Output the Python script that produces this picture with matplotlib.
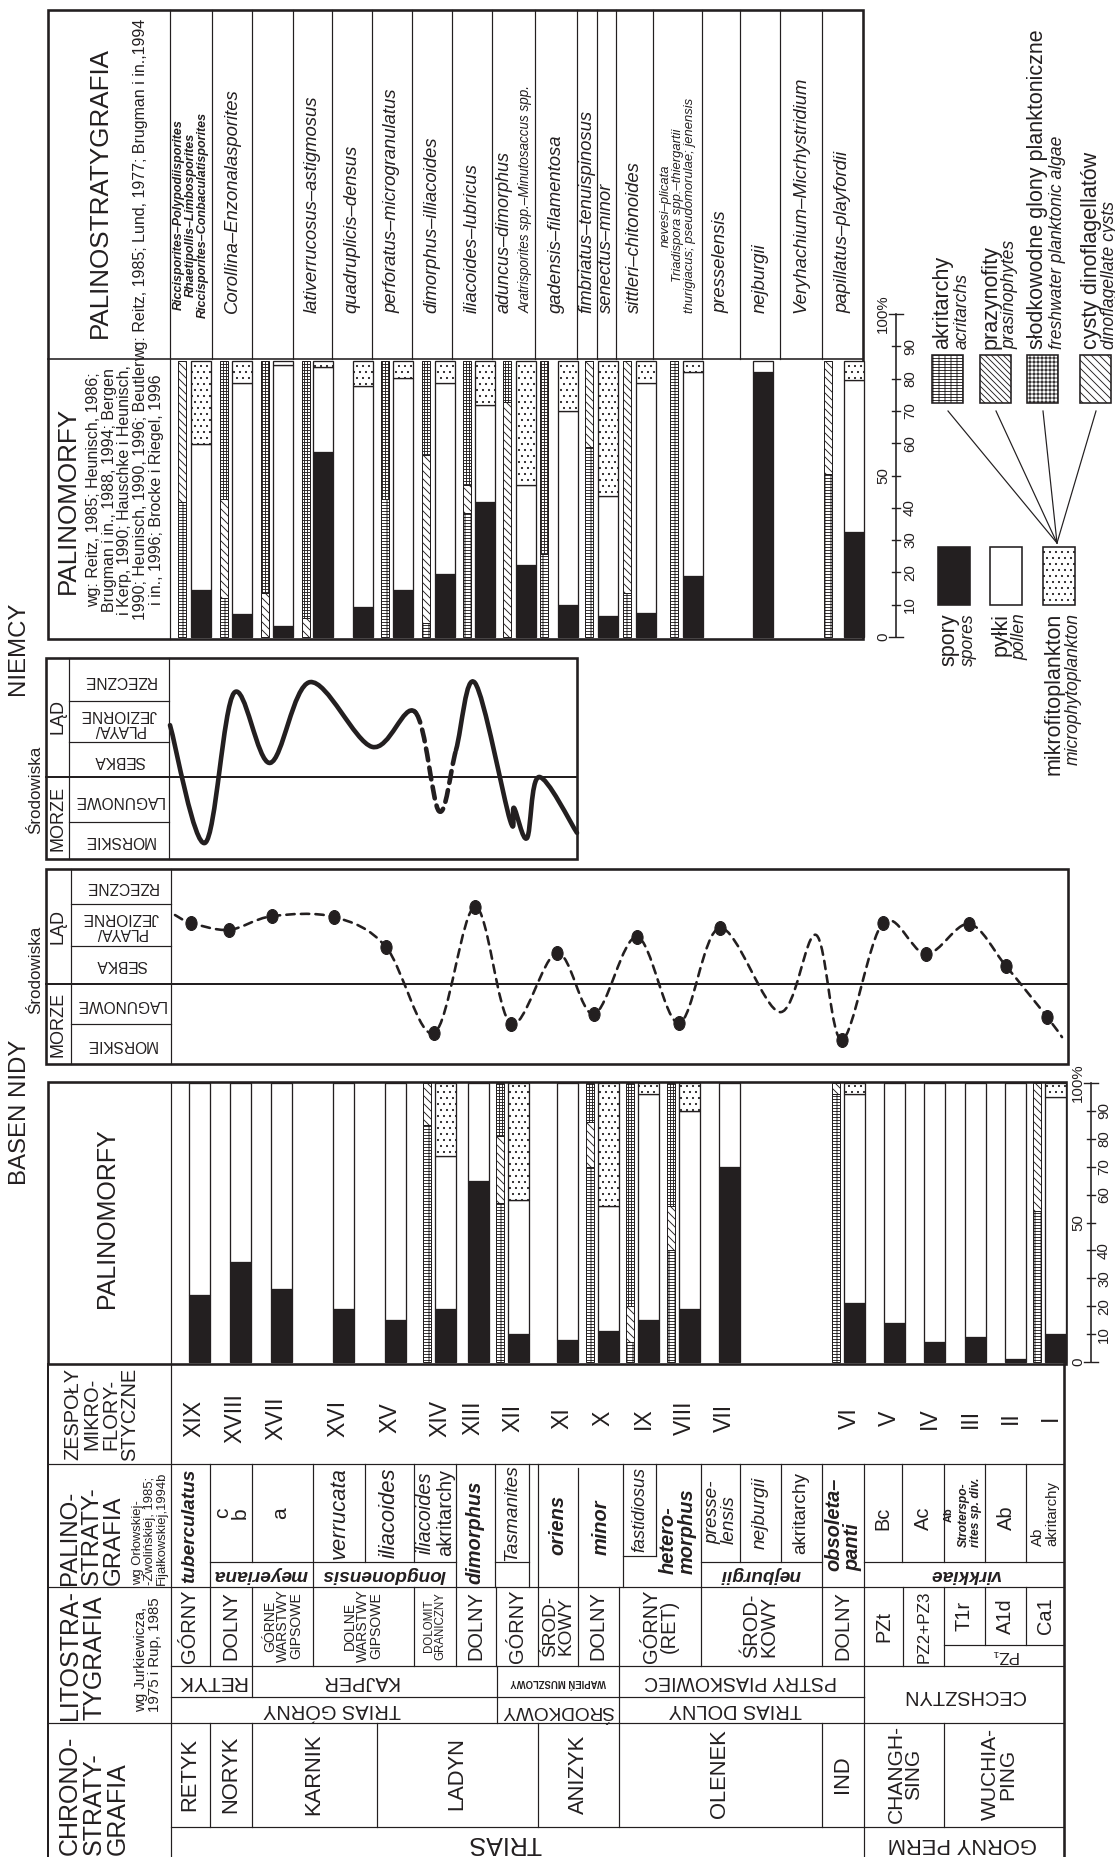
import numpy as np
import matplotlib
matplotlib.use("Agg")
import matplotlib.pyplot as plt
from matplotlib.path import Path
from matplotlib.patches import PathPatch, Rectangle

# ---------------- Basen Nidy: palynomorph spectra ----------------
nida_assemblages = ["XIX", "XVIII", "XVII", "XVI", "XV", "XIV", "XIII", "XII", "XI", "X",
                    "IX", "VIII", "VII", "VI", "V", "IV", "III", "II", "I"]
nida_spores = [24, 36, 26, 19, 15, 19, 65, 10, 8, 11, 15, 19, 70, 21, 14, 7, 9, 1, 10]
nida_microplankton = [0, 0, 0, 0, 0, 26, 0, 42, 0, 44, 4, 10, 0, 4, 0, 0, 0, 0, 5]

# make-up of the microphytoplankton (acritarchs / dinocysts / freshwater algae, %)
nida_mp_assemblages = ["XIV", "XII", "X", "IX", "VIII", "VI", "I"]
nida_mp_acritarchs = [85, 57, 70, 7, 40, 96, 54]
nida_mp_dinocysts = [15, 24, 16, 13, 16, 4, 46]
nida_mp_freshwater = [0, 19, 14, 80, 44, 0, 0]

# depositional environment: 0 morskie, 1 lagunowe, 2 sebka, 3 playa/jeziorne, 4-5 rzeczne
nida_env_pos = [175, 191, 229, 272, 334, 386, 434, 475, 511, 557, 594, 637, 679, 720,
                780, 816, 842, 883, 926, 969, 1006, 1047, 1062]
nida_env_level = [3.82, 3.62, 3.44, 3.79, 3.77, 3.0, 0.79, 4.03, 1.03, 2.85, 1.28, 3.26,
                  1.05, 3.49, 1.33, 3.31, 0.62, 3.62, 2.82, 3.59, 2.51, 1.21, 0.69]
nida_env_sampled = [0, 1, 1, 1, 1, 1, 1, 1, 1, 1, 1, 1, 1, 1, 0, 0, 1, 1, 1, 1, 1, 1, 0]

# ---------------- Niemcy (Germany) ----------------
de_zones = [
    "Riccisporites–Polypodiisporites\nRhaetipollis–Limbosporites\nRiccisporites–Conbaculatisporites",
    "Corollina–Enzonalasporites", "", "lativerrucosus–astigmosus", "quadruplicis–densus",
    "perforatus–microgranulatus", "dimorphus–illiacoides", "iliacoides–lubricus",
    "aduncus–dimorphus", "gadensis–filamentosa", "fimbriatus–tenuispinosus",
    "senectus–minor", "sittleri–chitonoides",
    "nevesi–plicata\nTriadispora spp.–thiergartii\nthurigiacus; pseudomorulae; jenensis",
    "presselensis", "nejburgii", "Veryhachium–Micrhystridium", "papillatus–playfordii"]
de_spores = [17, 8.4, 4, 67, 11, 17, 23, 49, 26, 11.5, 7.6, 8.6, 22, 96, 38]
de_microplankton = [30, 8, 1.5, 2, 9, 6, 8, 16, 45, 18, 49, 8, 4, 0, 7]
de_mp_acritarchs = [49, 14, 0, 0, 50, 5, 45, 0, 30, 69, 16, 100, 59]
de_mp_dinocysts = [51, 36, 16, 7, 0, 61, 10, 85, 0, 31, 84, 0, 41]
de_mp_freshwater = [0, 50, 84, 93, 50, 34, 45, 15, 70, 0, 0, 0, 0]

de_env_pos = [170, 205, 234, 270, 310, 372, 415, 439, 456, 475, 510, 514, 527, 539, 577]
de_env_level = [3.33, 0.40, 4.13, 2.39, 4.40, 2.79, 3.66, 1.19, 2.71, 4.38, 0.97, 1.27,
                0.52, 2.04, 0.65]
de_env_uncertain = [6, 7]          # segments drawn dashed

pct_ticks = list(range(0, 101, 10))

# ---------------- figure ----------------
W, H, DPI = 1115, 1857, 72
INK = "#231f20"
SANS = ["Liberation Sans", "DejaVu Sans"]
plt.rcParams["font.family"] = SANS
plt.rcParams["hatch.linewidth"] = 0.9

HATCH_ACR = "----||"
HATCH_PRA = "\\\\\\\\"
HATCH_FRESH = "++++"
HATCH_DINO = "\\\\\\"

fig = plt.figure(figsize=(W / DPI, H / DPI), dpi=DPI, facecolor="white")
ax = fig.add_axes([0, 0, 1, 1])
ax.set_xlim(0, W)
ax.set_ylim(H, 0)
ax.axis("off")


def line(xs, ys, lw=1.2):
    ax.plot(xs, ys, color=INK, lw=lw, solid_capstyle="projecting")


def hl(y, x0, x1, lw=1.2):
    line([x0, x1], [y, y], lw)


def vl(x, y0, y1, lw=1.2):
    line([x, x], [y0, y1], lw)


def rect(x0, y0, x1, y1, lw=1.2, **kw):
    ax.add_patch(Rectangle((x0, y0), x1 - x0, y1 - y0, ec=INK, lw=lw, **kw))


def txt(x, y, s, size, rot=90, ha="center", va="center", ma="center",
        style="normal", weight="normal", ls=1.0):
    ax.text(x, y, s, fontsize=size, rotation=rot, ha=ha, va=va, multialignment=ma,
            fontstyle=style, fontweight=weight, linespacing=ls, color=INK)


def panel(x0, y0, x1, y1, xlim, ylim):
    a = fig.add_axes([x0 / W, 1 - y1 / H, (x1 - x0) / W, (y1 - y0) / H])
    a.set_xlim(*xlim)
    a.set_ylim(*ylim)
    a.axis("off")
    return a


def bezier_segments(xs, ys):
    p = np.column_stack([xs, ys]).astype(float)
    n = len(p)
    segs = []
    for i in range(n - 1):
        p0, p1, p2, p3 = p[max(i - 1, 0)], p[i], p[i + 1], p[min(i + 2, n - 1)]
        segs.append((p1, p1 + (p2 - p0) / 6, p2 - (p3 - p1) / 6, p2))
    return segs


def draw_segments(a, segs, **kw):
    verts, codes = [segs[0][0]], [Path.MOVETO]
    for s in segs:
        verts += [s[1], s[2], s[3]]
        codes += [Path.CURVE4] * 3
    a.add_patch(PathPatch(Path(verts, codes), fill=False, ec=INK, clip_on=False,
                          capstyle="round", joinstyle="round", **kw))


def stacked_bars(a, x, width, spores, micro):
    spores = np.asarray(spores, float)
    micro = np.asarray(micro, float)
    pollen = 100 - spores - micro
    kw = dict(edgecolor=INK, lw=1.3, clip_on=False, align="edge")
    a.bar(x, spores, width, color=INK, **kw)
    a.bar(x, pollen, width, bottom=spores, color="white", **kw)
    m = micro > 0
    a.bar(np.asarray(x)[m], micro[m], width, bottom=(spores + pollen)[m],
          color="white", hatch="..", **kw)


def plankton_strips(a, x, width, acr, dino, fresh):
    kw = dict(edgecolor=INK, lw=1.0, clip_on=False, align="edge", color="white")
    acr, dino, fresh = (np.asarray(v, float) for v in (acr, dino, fresh))
    a.bar(x, acr, width, hatch=HATCH_ACR, **kw)
    a.bar(x, dino, width, bottom=acr, hatch=HATCH_DINO, **kw)
    a.bar(x, fresh, width, bottom=acr + dino, hatch=HATCH_FRESH, **kw)


def pct_scale(a, x, left_dx, right_dx, size):
    a.plot([x, x], [0, 100], color=INK, lw=1.6, clip_on=False)
    for t in pct_ticks:
        half = 7 if t in (0, 100) else 4
        a.plot([x - half, x + half], [t, t], color=INK, lw=1.4, clip_on=False)
        label = "100%" if t == 100 else str(t)
        dx = left_dx if t in (0, 50, 100) else right_dx
        a.text(x + dx, t, label, rotation=90, ha="center", va="center",
               fontsize=size, color=INK)


# =============== NIEMCY: palynostratigraphy + palynomorph table ===============
de_edges = [170, 212, 252, 293, 332, 372, 412, 452, 492, 535, 577, 597, 616, 653,
            702, 740, 780, 822, 863]
DE_TOP, DE_MID, DE_BOT = 10, 359, 639
rect(48, DE_TOP, 863, DE_BOT, lw=2.6, fill=False)
vl(170, DE_TOP, DE_BOT)
hl(DE_MID, 48, 863, lw=1.6)
for xe in de_edges[1:-1]:
    vl(xe, DE_TOP, DE_MID)

txt(100, 192, "PALINOSTRATYGRAFIA", 26)
txt(141, 190, "wg: Reitz, 1985; Lund, 1977; Brugman i in.,1994", 16)
txt(68, 500, "PALINOMORFY", 26)
txt(125, 490, "wg: Reitz, 1985; Heunisch, 1986;\nBrugman i in., 1988, 1994; Bergen\n"
    "i Kerp, 1990; Hauschke i Heunisch,\n1990; Heunisch, 1990, 1996; Beutler\n"
    "i in., 1996; Brocke i Riegel, 1996", 16, ls=1.08)

for i, name in enumerate(de_zones):
    xc = (de_edges[i] + de_edges[i + 1]) / 2
    if not name:
        continue
    if i == 0:
        txt(xc, 318, name, 12.5, va="bottom", style="italic", weight="bold")
    elif i == 8:
        txt(xc - 9, 313, name, 18, va="bottom", style="italic")
        txt(xc + 12, 313, "Aratrisporites spp.–Minutosaccus spp.", 13.5, va="bottom",
            style="italic")
    elif i == 13:
        txt(xc, 313, name, 13, va="bottom", style="italic")
    else:
        txt(xc, 313, name, 18.5, va="bottom", style="italic")

de_bar_x = [191, 232, 273, 313, 353, 393, 435, 475, 516, 558, 598, 636, 683, 753, 844]
de_strip_x = [178, 220, 261, 302, 381, 422, 463, 503, 540, 585, 623, 670, 824]
gb = panel(0, 361, W, 637, (0, W), (0, 100))
stacked_bars(gb, de_bar_x, 20, de_spores, de_microplankton)
plankton_strips(gb, de_strip_x, 8, de_mp_acritarchs, de_mp_dinocysts, de_mp_freshwater)

# =============== legend ===============
lg = panel(0, 314, W, 637, (0, W), (0, 100))
pct_scale(lg, 896, -13, 14, 15)

boxes_low = [(938, "spory", "spores", INK, None),
             (990, "pyłki", "pollen", "white", None),
             (1043, "mikrofitoplankton", "microphytoplankton", "white", "..")]
for x0, pl, en, fc, hatch in boxes_low:
    rect(x0, 547, x0 + 32, 605, lw=1.6, facecolor=fc, hatch=hatch)
    txt(x0 + 11, 613, pl, 21.5, va="top")
    txt(x0 + 30, 613, en, 17.5, va="top", style="italic")

boxes_high = [(932, "akritarchy", "acritarchs", HATCH_ACR),
              (980, "prazynofity", "prasinophytes", HATCH_PRA),
              (1027, "słodkowodne glony planktoniczne", "freshwater planktonic algae", "+++"),
              (1080, "cysty dinoflagellatów", "dinoflagellate cysts", HATCH_DINO)]
for x0, pl, en, hatch in boxes_high:
    rect(x0, 355, x0 + 31, 403, lw=1.6, facecolor="white", hatch=hatch)
    txt(x0 + 11, 349, pl, 21.5, va="bottom")
    txt(x0 + 30, 349, en, 17.5, va="bottom", style="italic")
    line([x0 + 16, 1057], [411, 543], lw=1.2)


# =============== environments ===============
def env_frame(x0, x1, y_top, y_mid, y_bot, rows, col1, col2):
    rect(x0, y_top, x1, y_bot, lw=2.6, fill=False)
    vl(col1, y_top, y_bot)
    vl(col2, y_top, y_bot)
    hl(y_mid, x0, x1, lw=2.0)
    for yr in rows:
        hl(yr, col1, col2)


def env_labels(cx, cy_rows, lad_y, morze_y, cx1, sr_x, sr_y):
    names = ["RZECZNE", "PLAYA/\nJEZIORNE", "SEBKA", "LAGUNOWE", "MORSKIE"]
    for nm, cy in zip(names, cy_rows):
        txt(cx, cy, nm, 15.5, rot=180, ls=0.95)
    txt(cx1, lad_y, "LĄD", 18)
    txt(cx1, morze_y, "MORZE", 18)
    txt(sr_x, sr_y, "Środowiska", 17)


# Germany
env_frame(46, 577, 658, 777, 859, [701, 742, 822], 69, 169)
env_labels(119, [680, 722, 760, 800, 841], 717, 818, 58, 36, 790)
ge = panel(169, 658, 577, 859, (169, 577), (0, 5))
segs = bezier_segments(de_env_pos, de_env_level)
solid_runs, run = [], []
for i, s in enumerate(segs):
    if i in de_env_uncertain:
        if run:
            solid_runs.append(run)
            run = []
    else:
        run.append(s)
solid_runs.append(run)
for r in solid_runs:
    draw_segments(ge, r, lw=4.6)
draw_segments(ge, [segs[i] for i in de_env_uncertain], lw=4.6, linestyle=(0, (2.6, 1.6)))

txt(18, 648, "NIEMCY", 24)

# Nida Basin
env_frame(46, 1068, 869, 984, 1064, [904, 946, 1024], 71, 171)
env_labels(121, [886, 925, 965, 1004, 1044], 926, 1024, 58, 36, 970)
ne = panel(171, 869, 1068, 1064, (171, 1068), (0, 5))
draw_segments(ne, bezier_segments(nida_env_pos, nida_env_level), lw=2.6,
              linestyle=(0, (3.2, 2.4)))
uc = Path.unit_circle()
dot = Path(uc.vertices * [0.8, 1.0], uc.codes)
sel = np.asarray(nida_env_sampled, bool)
ne.plot(np.asarray(nida_env_pos)[sel], np.asarray(nida_env_level)[sel], ls="none",
        marker=dot, ms=14, color=INK, clip_on=False)

txt(20, 1112, "BASEN NIDY", 24)

# =============== BASEN NIDY: palynomorph bars ===============
L, HR, R = 48, 171, 1064
Y_TOP, Y_TAB, Y_ZES, Y_PAL, Y_CHR, Y_STG = 1082, 1364, 1464, 1587, 1723, 1827
rect(L, Y_TOP, 1066, Y_TAB, lw=2.6, fill=False)
vl(L, Y_TAB, H, lw=2.0)
vl(R, Y_TAB, H, lw=2.6)
vl(HR, Y_TOP, H)
txt(107, 1218, "PALINOMORFY", 25)

nida_bar_x = [189, 230, 271, 333, 385, 435, 468, 508, 557, 598, 638, 679, 719, 844,
              884, 924, 965, 1005, 1045]
nb = panel(0, 1083, W, 1362, (0, W), (0, 100))
stacked_bars(nb, nida_bar_x, 21, nida_spores, nida_microplankton)
strip_x = [nida_bar_x[nida_assemblages.index(a)] - 12 for a in nida_mp_assemblages]
plankton_strips(nb, strip_x, 8, nida_mp_acritarchs, nida_mp_dinocysts, nida_mp_freshwater)
pct_scale(nb, 1091, -13, 13, 15)

# =============== BASEN NIDY: stratigraphic table ===============
for y in (Y_ZES, Y_PAL, Y_CHR):
    hl(y, L, R)
hl(Y_STG, HR, R)

# microfloral assemblages
txt(101, 1414, "ZESPOŁY\nMIKRO-\nFLORY-\nSTYCZNE", 20)
for a, xb in zip(nida_assemblages, nida_bar_x):
    txt(xb + 5, 1418, a, 23)

# palynostratigraphy
txt(92, 1585, "PALINO-\nSTRATY-\nGRAFIA", 24, va="bottom", ma="left")
txt(150, 1585, "wg Orłowskiej-\n-Zwolińskiej, 1985;\nFijałkowskiej,1994b", 13,
    va="bottom", ma="left")
for xe in (210, 313, 456, 495, 529, 538, 623, 701, 822, 864):
    vl(xe, Y_ZES, Y_PAL)
for xe in (252, 365, 414, 740, 781, 902, 944, 985, 1026):
    vl(xe, Y_ZES, 1562)
vl(578, 1468, Y_PAL)
vl(656, Y_ZES, 1556)
hl(1556, 623, 656)
hl(1562, 210, 456)
hl(1562, 495, 529)
hl(1562, 701, 822)
hl(1562, 864, R)

BI = dict(style="italic", weight="bold")
IT = dict(style="italic")
txt(190, 1526, "tuberculatus", 19, **BI)
txt(231, 1513, "c\nb", 21, ls=0.9)
txt(281, 1513, "a", 21)
txt(261, 1574, "meyeriana", 19, rot=180, **BI)
txt(339, 1513, "verrucata", 22, **IT)
txt(389, 1513, "iliacoides", 22, **IT)
txt(425, 1513, "iliacoides", 20, **IT)
txt(446, 1513, "akritarchy", 20)
txt(384, 1574, "longdonensis", 19, rot=180, **BI)
txt(475, 1532, "dimorphus", 20, **BI)
txt(512, 1513, "Tasmanites", 19, **IT)
txt(558, 1525, "oriens", 20, **BI)
txt(601, 1527, "minor", 20, **BI)
txt(640, 1510, "fastidiosus", 18, **IT)
txt(678, 1531, "hetero-\nmorphus", 20, ma="left", **BI)
txt(721, 1512, "presse-\nlensis", 19, ma="left", **IT)
txt(760, 1513, "nejburgii", 19, **IT)
txt(801, 1513, "akritarchy", 19)
txt(761, 1574, "nejburgii", 19, rot=180, **BI)
txt(843, 1524, "obsoleta–\npanti", 20, ma="left", **BI)
txt(883, 1518, "Bc", 20)
txt(923, 1518, "Ac", 20)
txt(949, 1515, "Ab", 11, weight="bold")
txt(970, 1512, "Stroterspo-\nrites sp. div.", 12, ma="left", **BI)
txt(1006, 1518, "Ab", 20)
txt(1045, 1513, "Ab\nakritarchy", 15, ma="left")
txt(964, 1574, "virkkiae", 19, rot=180, **BI)

# lithostratigraphy
txt(82, 1720, "LITOSTRA-\nTYGRAFIA", 25, va="bottom", ma="left")
txt(148, 1712, "wg Jurkiewicza,\n1975 i Rup, 1985", 15, va="bottom", ma="left")
for xe in (210, 252, 313, 414, 456, 496, 538, 578, 619, 701, 822, 864, 903, 944):
    vl(xe, Y_PAL, 1666)
for xe in (985, 1026):
    vl(xe, Y_PAL, 1645)
hl(1645, 944, R)
hl(1666, HR, R)
hl(1697, HR, 864)
for xe in (252, 497, 619, 864):
    vl(xe, 1666, 1697)
for xe in (497, 619, 864):
    vl(xe, 1697, Y_CHR)

for s, xc, sz in [("GÓRNY", 190, 20), ("DOLNY", 231, 20), ("DOLNY", 476, 20),
                  ("GÓRNY", 517, 20), ("DOLNY", 598, 20), ("DOLNY", 843, 20)]:
    txt(xc, 1626, s, sz)
txt(283, 1626, "GÓRNE\nWARSTWY\nGIPSOWE", 14, ls=0.9)
txt(363, 1626, "DOLNE\nWARSTWY\nGIPSOWE", 14, ls=0.9)
txt(435, 1626, "DOLOMIT\nGRANICZNY", 11.5, ls=0.95)
txt(558, 1626, "ŚROD-\nKOWY", 19, ls=0.9)
txt(660, 1626, "GÓRNY\n(RET)", 20, ls=0.9)
txt(760, 1626, "ŚROD-\nKOWY", 20, ls=0.9)
txt(884, 1627, "PZt", 20)
txt(924, 1627, "PZ2+PZ3", 17)
txt(964, 1616, "T1r", 20)
txt(1005, 1616, "A1d", 20)
txt(1045, 1616, "Ca1", 20)
txt(1004, 1656, "PZ₁", 17, rot=180)

txt(211, 1682, "RETYK", 21, rot=180)
txt(360, 1682, "KAJPER", 20, rot=180)
txt(558, 1682, "WAPIEŃ MUSZLOWY", 9.5, rot=180, weight="bold")
txt(741, 1682, "PSTRY PIASKOWIEC", 19.5, rot=180)
txt(964, 1696, "CECHSZTYN", 20, rot=180)
txt(332, 1710, "TRIAS GÓRNY", 20, rot=180)
txt(558, 1710, "ŚRODKOWY", 19, rot=180)
txt(735, 1710, "TRIAS DOLNY", 20, rot=180)

# chronostratigraphy
txt(94, 1855, "CHRONO-\nSTRATY-\nGRAFIA", 25, va="bottom", ma="left")
for xe in (210, 252, 377, 538, 619, 822, 864, 944):
    vl(xe, Y_CHR, Y_STG)
vl(864, Y_STG, H)
for s, xc in [("RETYK", 190), ("NORYK", 231), ("KARNIK", 314), ("LADYN", 457),
              ("ANIZYK", 578), ("OLENEK", 720), ("IND", 843)]:
    txt(xc, 1774, s, 22)
txt(905, 1774, "CHANGH-\nSING", 21, ls=0.9)
txt(999, 1774, "WUCHIA-\nPING", 21, ls=0.9)
txt(505, 1843, "TRIAS", 25, rot=180)
txt(962, 1843, "GÓRNY PERM", 22, rot=180)

fig.savefig("out.png", dpi=DPI, facecolor="white")
